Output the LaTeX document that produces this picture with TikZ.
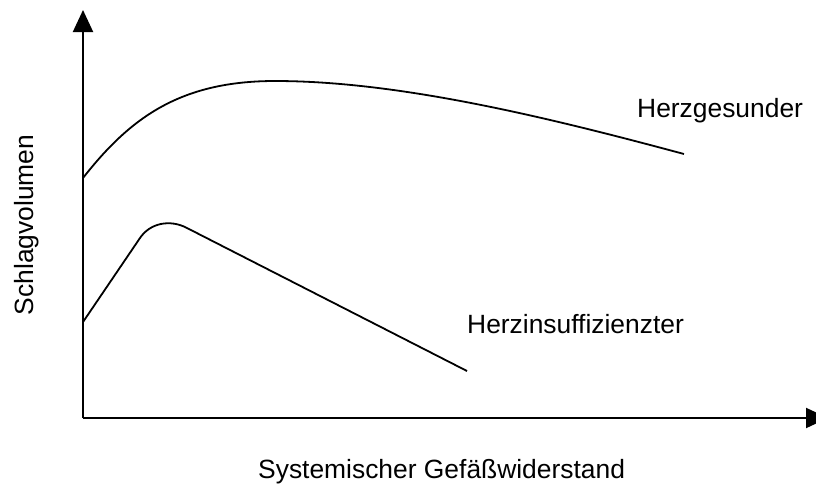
\documentclass[tikz,border=0pt]{standalone}
\usepackage{fontspec}
\setmainfont{Liberation Sans}
\usetikzlibrary{arrows.meta}
\begin{document}
\begin{tikzpicture}[x=1pt,y=-1pt,
  axis/.style={line width=2pt,-{Triangle[length=22pt,width=20pt]}},
  curve/.style={line width=1.8pt,line join=round},
  lbl/.style={inner sep=0pt,font=\fontsize{26.4}{30}\selectfont}]
\useasboundingbox (0,0) rectangle (816,483);
\coordinate (O) at (83,418);
\coordinate (ytop) at (83,10);
\coordinate (xend) at (828,418);
\draw[axis] (O) -- (ytop);
\draw[axis] (O) -- (xend);
% healthy
\coordinate (h0) at (83,178);
\coordinate (hp) at (275,81);
\coordinate (h1) at (684,154);
\draw[curve] (h0) .. controls (130,118) and (180,81) .. (hp)
  .. controls (400,81) and (550,118) .. (h1);
% insufficient
\coordinate (i0) at (83,322);
\coordinate (ia) at (140,238);
\coordinate (ib) at (187,228);
\coordinate (i1) at (467,371);
\draw[curve] (i0) -- (ia) .. controls (150,223) and (170,219) .. (ib) -- (i1);
\node[lbl,anchor=base west] (tg) at (637,117) {Herzgesunder};
\node[lbl,anchor=base west] (ti) at (467,333) {Herzinsuffizienzter};
\node[lbl,anchor=base west] (tx) at (258,478) {Systemischer Gefäßwiderstand};
\node[lbl,anchor=base,rotate=90] (ty) at (33,225) {Schlagvolumen};
\end{tikzpicture}
\end{document}
